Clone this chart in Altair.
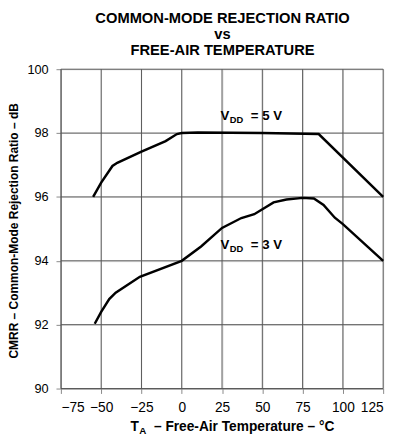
import altair as alt
import pandas as pd

temp_5v = [-55, -50, -43, -40, -25, -10, -3, 0, 10, 50, 85, 125]
cmrr_5v = [96.0, 96.45, 96.97, 97.07, 97.42, 97.75, 97.97, 98.0, 98.02, 98.0, 97.97, 96.0]
temp_3v = [-54, -50, -45, -41, -26, 0, 12, 25, 37, 45, 57, 65, 75, 82, 88, 95, 100, 125]
cmrr_3v = [92.03, 92.4, 92.8, 93.0, 93.5, 94.0, 94.45, 95.03, 95.34, 95.46, 95.83, 95.92, 95.97, 95.95, 95.75, 95.35, 95.15, 94.0]

x_ticks = [-75, -50, -25, 0, 25, 50, 75, 100, 125]
y_ticks = [90, 92, 94, 96, 98, 100]

df = pd.concat([
    pd.DataFrame({"T": temp_5v, "CMRR": cmrr_5v, "s": "5"}),
    pd.DataFrame({"T": temp_3v, "CMRR": cmrr_3v, "s": "3"}),
])

FONT = "Liberation Sans"
W, H = 329, 326

xs = alt.Scale(domain=[-75, 125], nice=False, zero=False)
ys = alt.Scale(domain=[90, 100], nice=False, zero=False)

vgrid = alt.Chart(pd.DataFrame({"x": x_ticks})).mark_rule(color="#555555", strokeWidth=1).encode(
    x=alt.X("x:Q", scale=xs, axis=alt.Axis(values=x_ticks, title=None, labelFontSize=14, labelPadding=7))
)
hgrid = alt.Chart(pd.DataFrame({"y": y_ticks})).mark_rule(color="#555555", strokeWidth=1).encode(
    y=alt.Y("y:Q", scale=ys, axis=alt.Axis(values=y_ticks, title=None, labelFontSize=13, labelPadding=8))
)

lines = alt.Chart(df).mark_line(color="black", strokeWidth=2.5, clip=False).encode(
    x=alt.X("T:Q", scale=xs, axis=alt.Axis(values=x_ticks, title=None, labelFontSize=14, labelPadding=7)),
    y=alt.Y("CMRR:Q", scale=ys, axis=alt.Axis(values=y_ticks, title=None, labelFontSize=13, labelPadding=8)),
    detail="s:N",
)

def txt(text, size, align="left", **kw):
    return alt.Chart(pd.DataFrame({"t": [text]})).mark_text(
        font=FONT, fontSize=size, fontWeight="bold", color="black", align=align, baseline="alphabetic", **kw
    ).encode(text="t:N")

anns = []
for val, yv in [("5", 98.4), ("3", 94.36)]:
    anns.append(txt("V", 13.5).encode(x=alt.datum(24, scale=xs), y=alt.datum(yv, scale=ys)))
    anns.append(txt("DD", 9.5, dx=9.5, dy=3).encode(x=alt.datum(24, scale=xs), y=alt.datum(yv, scale=ys)))
    anns.append(txt("= " + val + " V", 13.5, dx=31).encode(x=alt.datum(24, scale=xs), y=alt.datum(yv, scale=ys)))

titles = [
    txt("COMMON-MODE REJECTION RATIO", 15, align="center").encode(x=alt.value(165), y=alt.value(-47)),
    txt("vs", 15, align="center").encode(x=alt.value(165), y=alt.value(-31)),
    txt("FREE-AIR TEMPERATURE", 15, align="center").encode(x=alt.value(165), y=alt.value(-15)),
    txt("CMRR – Common-Mode Rejection Ratio – dB", 12.2, align="center", angle=270).encode(
        x=alt.value(-44), y=alt.value(165)),
    txt("T", 14).encode(x=alt.value(71), y=alt.value(369)),
    txt("A", 10).encode(x=alt.value(80), y=alt.value(372)),
    txt("– Free-Air Temperature  – °C", 14).encode(x=alt.value(95), y=alt.value(369)),
]

chart = alt.layer(vgrid, hgrid, lines, *anns, *titles).properties(
    width=W, height=H,
    autosize=alt.AutoSizeParams(type="none"),
    padding={"left": 54, "top": 58, "right": 8, "bottom": 46},
).configure_axis(
    grid=False, ticks=False, domain=False,
    labelFont=FONT, labelFontWeight="bold", labelColor="black",
).configure_view(stroke="black", strokeWidth=1.2).configure(background="white")

chart.save("out.html", embed_options={"renderer": "svg", "actions": False})
